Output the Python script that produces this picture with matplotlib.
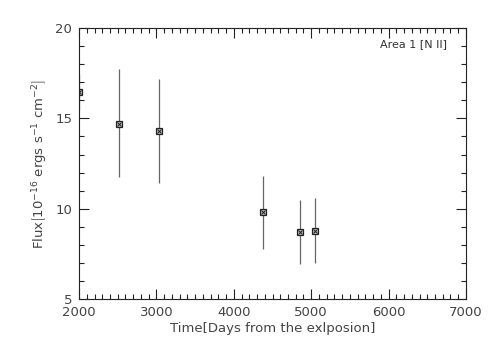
import matplotlib
matplotlib.use("Agg")
import matplotlib.pyplot as plt
from matplotlib.ticker import MultipleLocator

# values
days = [1995, 2521, 3037, 4373, 4859, 5045]
flux = [16.47, 14.69, 14.32, 9.80, 8.73, 8.77]
err_hi = [1.0, 3.02, 2.87, 2.01, 1.75, 1.84]
err_lo = [1.0, 2.95, 2.91, 2.01, 1.81, 1.79]

plt.rcParams['font.family'] = 'DejaVu Sans'
plt.rcParams['mathtext.fontset'] = 'dejavusans'

fig = plt.figure(figsize=(4.91, 3.51), dpi=100)
ax = fig.add_axes([0.161, 0.148, 0.788, 0.772])

ax.errorbar(days, flux, yerr=[err_lo, err_hi], fmt='none', ecolor='#666666',
            elinewidth=0.9, capsize=0)
ax.plot(days, flux, 's', ms=4.8, mfc='#bbbbbb', mec='#222222', mew=0.9, ls='none')
ax.plot(days, flux, 'x', ms=3, color='#222222', mew=0.7, ls='none')

ax.set_xlim(2000, 7000)
ax.set_ylim(5, 20)
ax.xaxis.set_major_locator(MultipleLocator(1000))
ax.xaxis.set_minor_locator(MultipleLocator(100))
ax.yaxis.set_major_locator(MultipleLocator(5))
ax.yaxis.set_minor_locator(MultipleLocator(1))
ax.tick_params(which='both', direction='in', top=True, right=True,
               colors='#222222', labelcolor='#444444', labelsize=9.5, width=0.8)
ax.tick_params(which='major', length=7, pad=5)
ax.tick_params(which='minor', length=3.5)
for s in ax.spines.values():
    s.set_color('#222222')
    s.set_linewidth(0.8)

ax.set_xlabel('Time[Days from the exlposion]', fontsize=9.5, color='#444444', labelpad=2)
ax.set_ylabel(r'Flux$\left[10^{-16}\ \mathrm{ergs\ s^{-1}\ cm^{-2}}\right]$',
              fontsize=9.5, color='#444444', labelpad=4)
ax.text(0.95, 0.94, 'Area 1 [N II]', transform=ax.transAxes, ha='right', va='center',
        fontsize=8, color='#333333')

fig.savefig('out.png', dpi=100)
